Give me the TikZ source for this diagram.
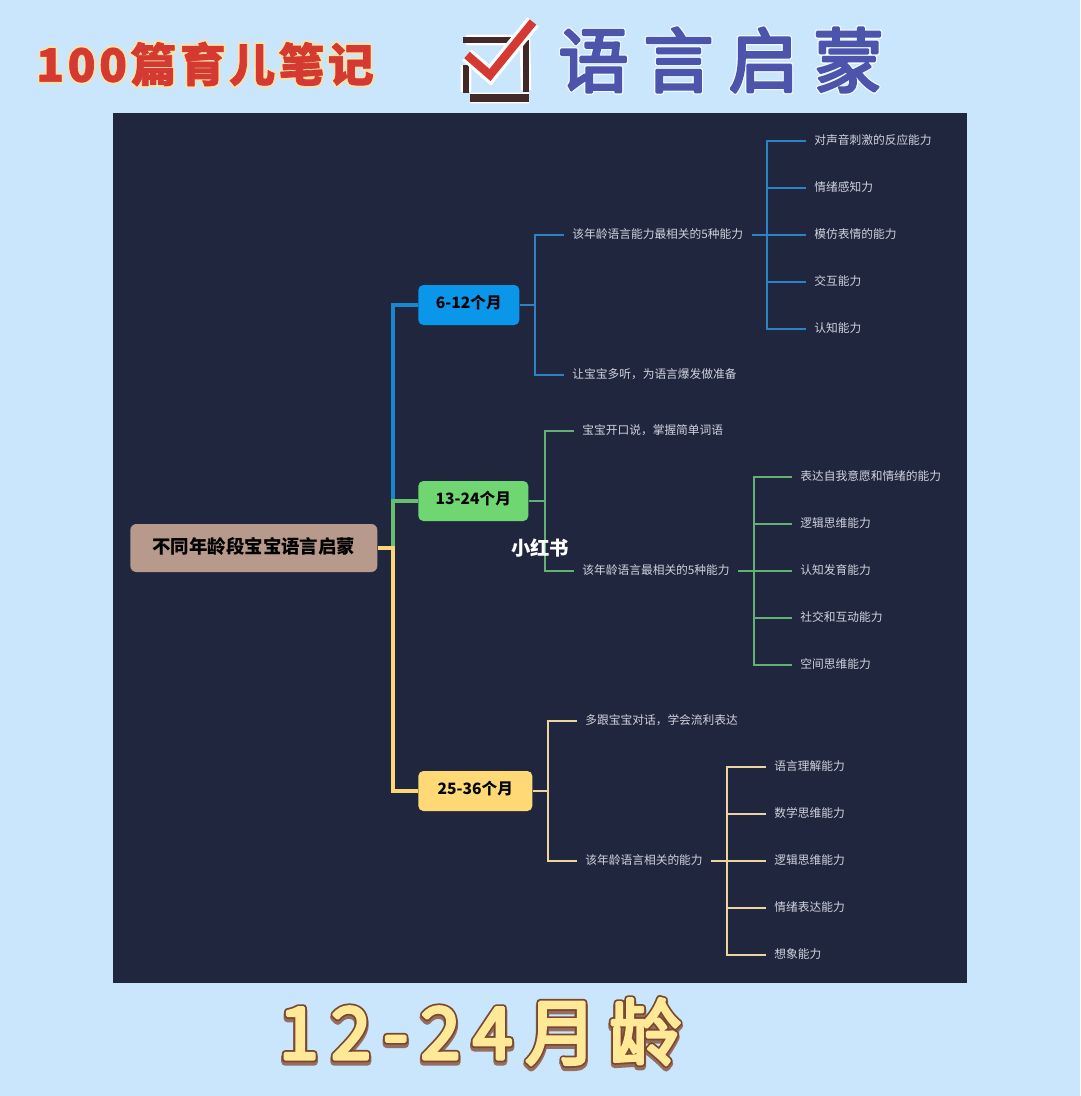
\documentclass[tikz,border=0pt]{standalone}
\usepackage{fontspec}
\usetikzlibrary{
    arrows.meta,
    calc,
    positioning,
    backgrounds
}
\setmainfont{Noto Sans CJK SC}
\definecolor{sky}{RGB}{201,230,252}
\definecolor{panel}{RGB}{33,38,63}
\definecolor{leaftext}{RGB}{208,211,220}
\definecolor{rootfill}{RGB}{184,154,140}
\definecolor{bluefill}{RGB}{10,151,234}
\definecolor{greenfill}{RGB}{111,214,114}
\definecolor{yellowfill}{RGB}{255,217,118}
\definecolor{blueline}{RGB}{24,135,205}
\definecolor{greenline}{RGB}{104,190,110}
\definecolor{yellowline}{RGB}{250,214,120}
\definecolor{bluetwig}{RGB}{45,130,195}
\definecolor{greentwig}{RGB}{100,175,115}
\definecolor{yellowtwig}{RGB}{235,212,160}
\definecolor{redtitle}{RGB}{212,58,50}
\definecolor{creamedge}{RGB}{250,226,170}
\definecolor{indigotitle}{RGB}{76,84,172}
\definecolor{boxbrown}{RGB}{66,40,38}
\definecolor{agetitle}{RGB}{255,232,150}
\definecolor{ageedge}{RGB}{122,72,50}
\definecolor{ageshadow}{RGB}{150,110,95}
% text drawn with a round stroke: width in bp, colour, text
\newcommand{\fattext}[3]{\textcolor{#2}{\special{pdf:code 2 Tr #1 w 1 j 1 J}#3\special{pdf:code 0 Tr}}}
\tikzset{
    line cap=round,
    line join=round,
    rootbox/.style={
        rectangle,
        rounded corners=0.12cm,
        fill=rootfill,
        text=black,
        minimum width=4.94cm,
        minimum height=0.96cm,
        text height=9pt,
        text depth=2.2pt,
        font=\bfseries\fontsize{10.5pt}{12pt}\selectfont
    },
    stagebox/.style={
        rectangle,
        rounded corners=0.1cm,
        anchor=west,
        minimum height=0.8cm,
        inner xsep=0pt,
        text height=7.5pt,
        text depth=3pt,
        text=black!85!panel,
        font=\bfseries\fontsize{8.9pt}{10pt}\selectfont
    },
    leaf/.style={
        anchor=west,
        inner xsep=0.16cm,
        inner ysep=0pt,
        text height=6pt,
        text depth=2.1pt,
        text=leaftext,
        font=\fontsize{6.68pt}{8pt}\selectfont
    },
    trunk/.style={line width=1.8pt},
    twig/.style={line width=0.85pt}
}

\begin{document}
\begin{tikzpicture}[x=0.02cm, y=-0.02cm]

\useasboundingbox (0,0) rectangle (1080,1096);
\fill[sky] (0,0) rectangle (1080,1096);
\fill[panel] (113,113) rectangle (967,983);

% page titles
\node[font=\bfseries\fontsize{26pt}{30pt}\selectfont\addfontfeature{LetterSpace=8}] (booktitle) at (205,64)
    {\rlap{\fattext{2.6}{creamedge}{100篇育儿笔记}}\fattext{0.4}{redtitle}{100篇育儿笔记}};
\node[font=\fontsize{40pt}{44pt}\selectfont\addfontfeature{LetterSpace=21}] (topictitle) at (721,60)
    {\rlap{\fattext{3}{white!70!sky}{语言启蒙}}\fattext{1.5}{indigotitle}{语言启蒙}};
\node[font=\fontsize{41pt}{46pt}\selectfont\addfontfeature{LetterSpace=17}] (agetitle) at (480,1033)
    {\rlap{\raisebox{-1.6pt}{\fattext{4.4}{ageshadow}{12-24月龄}}}\rlap{\fattext{3.8}{ageedge}{12-24月龄}}\fattext{1.8}{agetitle}{12-24月龄}};

% tick box
\draw[white, line width=6pt] (466,40) -- (525,40) -- (526,90) (466,65) -- (466,92) (470,98) -- (529,98);
\draw[boxbrown, line width=3.8pt, line cap=butt] (463,40) -- (528,40);
\draw[boxbrown, line width=3.8pt, line cap=butt] (466,65) -- (466,93);
\draw[boxbrown, line width=3.8pt, line cap=butt] (526,40) -- (526,92);
\draw[boxbrown, line width=4.8pt] (470,98) -- (529,98);
\draw[white, line width=8.4pt] (467,55) -- (490,75) -- (533,22);
\draw[redtitle, line width=4.8pt] (467,55) -- (490,75) -- (533,22);

% main boxes
\node[rootbox, anchor=west] (root) at (130,548) {不同年龄段宝宝语言启蒙};
\node[stagebox, fill=bluefill, minimum width=2.02cm] (stageA) at (418,305) {6-12个月};
\node[stagebox, fill=greenfill, minimum width=2.2cm] (stageB) at (418,501) {13-24个月};
\node[stagebox, fill=yellowfill, minimum width=2.28cm] (stageC) at (418,791) {25-36个月};

\coordinate (fork) at (393,548);
\draw[trunk, blueline] (fork) |- (stageA.west);
\draw[trunk, greenline] (fork) |- (stageB.west);
\draw[trunk, yellowline] (root.east) -- (fork) |- (stageC.west);

% 6-12
\node[leaf] (noteA) at (564,235) {该年龄语言能力最相关的5种能力};
\node[leaf] (tipA) at (564,375) {让宝宝多听，为语言爆发做准备};
\coordinate (forkA) at (535,305);
\coordinate (spineA) at (767,235);
\draw[twig, bluetwig] (stageA.east) -- (forkA);
\draw[twig, bluetwig] (forkA) |- (noteA.west);
\draw[twig, bluetwig] (forkA) |- (tipA.west);
\draw[twig, bluetwig] (noteA.east) -- (spineA);
\foreach \nm/\y/\txt in {
    1/141/对声音刺激的反应能力,
    2/188/情绪感知力,
    3/235/模仿表情的能力,
    4/282/交互能力,
    5/329/认知能力
} {
    \node[leaf] (leafA\nm) at (806,\y) {\txt};
    \draw[twig, bluetwig] (spineA) |- (leafA\nm.west);
}

% 13-24
\node[leaf] (tipB) at (574,431) {宝宝开口说，掌握简单词语};
\node[leaf] (noteB) at (574,571) {该年龄语言最相关的5种能力};
\coordinate (forkB) at (545,501);
\coordinate (spineB) at (754,571);
\draw[twig, greentwig] (stageB.east) -- (forkB);
\draw[twig, greentwig] (forkB) |- (tipB.west);
\draw[twig, greentwig] (forkB) |- (noteB.west);
\draw[twig, greentwig] (noteB.east) -- (spineB);
\foreach \nm/\y/\txt in {
    1/477/表达自我意愿和情绪的能力,
    2/524/逻辑思维能力,
    3/571/认知发育能力,
    4/618/社交和互动能力,
    5/665/空间思维能力
} {
    \node[leaf] (leafB\nm) at (792,\y) {\txt};
    \draw[twig, greentwig] (spineB) |- (leafB\nm.west);
}

% 25-36
\node[leaf] (tipC) at (577,721) {多跟宝宝对话，学会流利表达};
\node[leaf] (noteC) at (577,861) {该年龄语言相关的能力};
\coordinate (forkC) at (548,791);
\coordinate (spineC) at (727,861);
\draw[twig, yellowtwig] (stageC.east) -- (forkC);
\draw[twig, yellowtwig] (forkC) |- (tipC.west);
\draw[twig, yellowtwig] (forkC) |- (noteC.west);
\draw[twig, yellowtwig] (noteC.east) -- (spineC);
\foreach \nm/\y/\txt in {
    1/767/语言理解能力,
    2/814/数学思维能力,
    3/861/逻辑思维能力,
    4/908/情绪表达能力,
    5/955/想象能力
} {
    \node[leaf] (leafC\nm) at (766,\y) {\txt};
    \draw[twig, yellowtwig] (spineC) |- (leafC\nm.west);
}

\node[text=white, font=\bfseries\fontsize{11pt}{12pt}\selectfont] (mark) at (540,548) {小红书};

\end{tikzpicture}
\end{document}
